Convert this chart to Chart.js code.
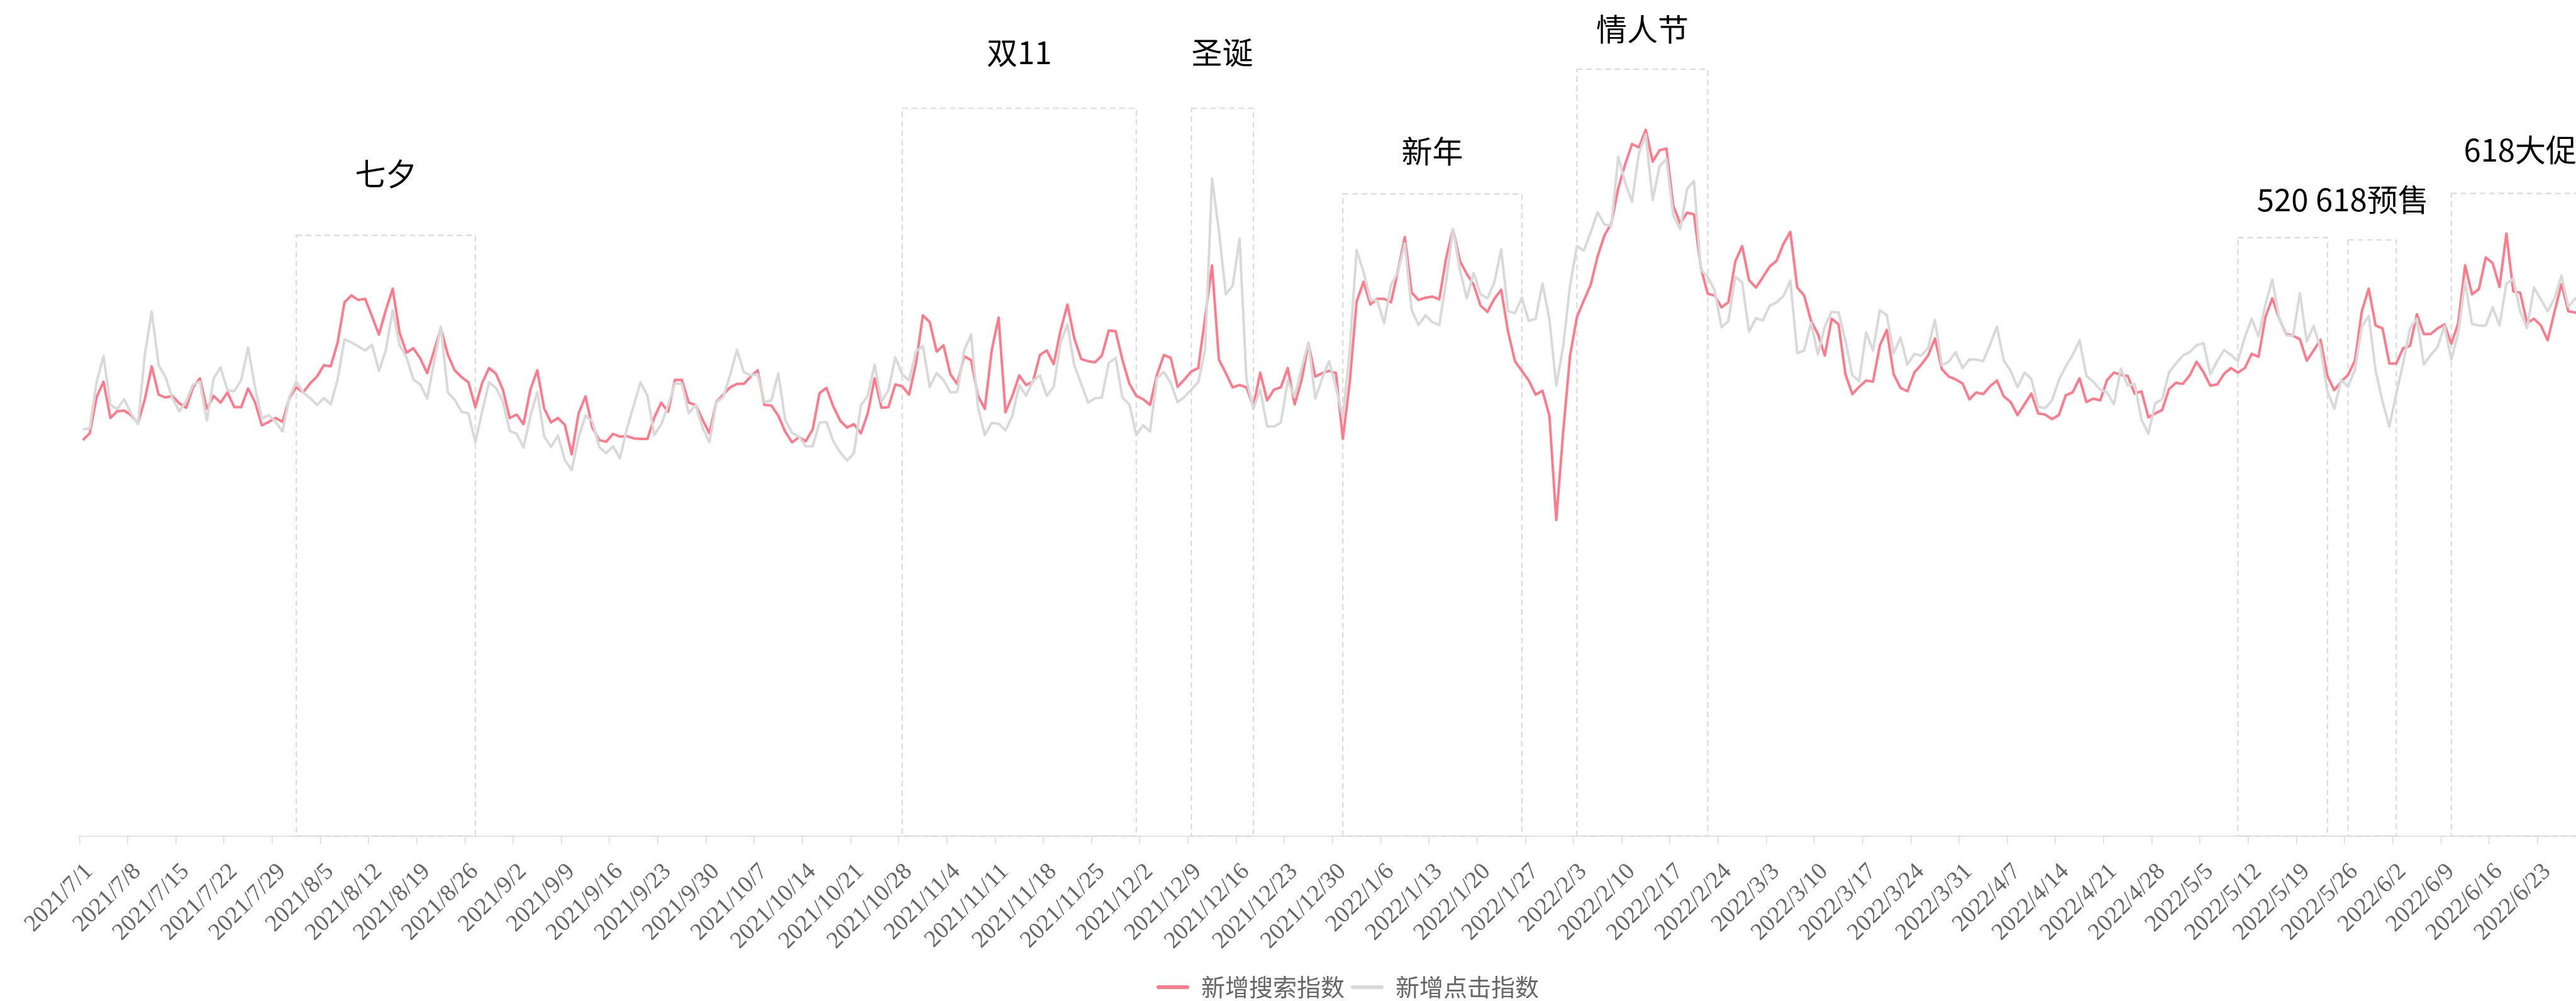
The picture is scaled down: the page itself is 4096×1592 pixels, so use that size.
<!DOCTYPE html>
<html>
<head>
<meta charset="utf-8">
<script src="https://cdn.jsdelivr.net/npm/chart.js@4/dist/chart.umd.min.js"></script>
<style>
  html, body { margin: 0; padding: 0; overflow: hidden; background: #fff; }
  #wrap { width: 4286px; height: 1600px; position: relative; }
</style>
</head>
<body>
<div id="wrap"><canvas id="trend"></canvas></div>
<script>
// 日期分类：2021/7/1 ~ 2022/6/30
const categories = [];
for (let d = new Date(2021, 6, 1); d <= new Date(2022, 5, 30); d.setDate(d.getDate() + 1)) {
    categories.push(d.getFullYear() + '/' + (d.getMonth() + 1) + '/' + d.getDate());
}

const searchIndex = [
    69.8, 71.0, 77.4, 80.1, 73.7, 74.9, 75.0, 74.2, 72.8, 77.0,
    82.8, 77.8, 77.3, 77.6, 76.3, 75.5, 79.1, 80.7, 75.3, 77.6,
    76.4, 78.2, 75.6, 75.6, 78.9, 76.5, 72.4, 73.0, 73.7, 73.0,
    77.2, 79.1, 78.2, 79.8, 81.0, 83.0, 82.8, 87.0, 94.1, 95.3,
    94.5, 94.7, 91.6, 88.4, 92.7, 96.5, 88.7, 85.2, 86.0, 84.2,
    81.6, 85.5, 89.5, 84.9, 82.1, 80.9, 80.0, 75.6, 79.9, 82.5,
    81.5, 78.7, 73.7, 74.3, 72.6, 78.7, 82.1, 75.4, 72.9, 73.7,
    72.5, 67.3, 74.5, 77.5, 72.0, 69.8, 69.5, 70.9, 70.4, 70.5,
    70.1, 70.0, 70.0, 73.8, 76.4, 74.8, 80.4, 80.4, 76.4, 76.0,
    73.4, 71.0, 76.5, 77.8, 79.1, 79.7, 79.7, 81.0, 82.1, 76.0,
    75.9, 74.1, 71.3, 69.4, 70.3, 69.6, 71.7, 78.1, 79.0, 75.7,
    73.2, 72.0, 72.6, 71.0, 74.5, 80.7, 75.5, 75.6, 79.6, 79.3,
    77.8, 83.3, 91.8, 90.6, 85.4, 86.5, 81.4, 79.7, 84.6, 83.9,
    77.6, 75.3, 85.6, 91.4, 74.7, 77.6, 81.2, 79.5, 80.1, 84.8,
    85.6, 83.2, 89.1, 93.7, 87.7, 84.1, 83.7, 83.5, 84.7, 89.1,
    89.0, 83.9, 79.7, 77.6, 77.0, 76.0, 81.3, 84.8, 84.3, 79.2,
    80.5, 81.9, 82.5, 91.4, 100.6, 84.0, 81.6, 79.1, 79.5, 79.1,
    75.7, 81.7, 76.8, 78.7, 79.1, 82.5, 76.1, 80.3, 86.8, 81.0,
    81.6, 82.0, 81.6, 70.0, 80.0, 94.2, 97.7, 93.7, 94.7, 94.7,
    94.1, 99.6, 105.6, 95.8, 94.5, 94.9, 95.1, 94.6, 101.9, 107.0,
    101.4, 99.1, 97.2, 93.5, 92.4, 94.7, 96.3, 88.9, 83.7, 82.0,
    80.3, 77.8, 78.5, 74.1, 55.7, 71.2, 84.7, 91.5, 94.4, 97.2,
    102.2, 105.9, 108.0, 114.2, 118.4, 122.0, 121.4, 124.5, 118.9, 120.9,
    121.2, 111.1, 108.0, 109.9, 109.6, 100.2, 95.6, 95.3, 93.2, 94.1,
    101.3, 104.0, 98.0, 96.7, 98.5, 100.4, 101.4, 104.4, 106.5, 96.7,
    95.3, 90.8, 88.5, 84.7, 91.2, 90.2, 81.4, 77.9, 79.2, 80.3,
    80.1, 86.5, 89.2, 81.4, 79.0, 78.4, 81.7, 83.1, 84.7, 87.7,
    82.3, 81.0, 80.5, 79.8, 77.0, 78.2, 77.9, 79.3, 80.3, 77.5,
    76.5, 74.2, 76.1, 78.0, 74.5, 74.3, 73.5, 74.2, 77.7, 78.2,
    80.7, 76.5, 77.1, 76.8, 80.4, 81.7, 81.3, 81.1, 78.0, 78.4,
    73.8, 74.5, 75.1, 78.8, 79.9, 79.7, 81.2, 83.6, 81.8, 79.4,
    79.6, 81.5, 82.5, 81.7, 82.5, 85.0, 84.5, 91.5, 94.8, 91.2,
    88.5, 88.2, 87.6, 83.8, 85.6, 87.5, 81.1, 78.6, 80.1, 81.3,
    83.8, 92.5, 96.5, 90.0, 89.5, 83.3, 83.3, 86.0, 86.4, 92.0,
    88.5, 88.5, 89.5, 90.2, 86.8, 90.4, 100.6, 95.5, 96.4, 102.0,
    101.0, 96.8, 106.2, 96.0, 95.8, 90.4, 91.2, 90.0, 87.4, 92.5,
    97.3, 92.5, 92.3, 92.0, 92.5
];

const clickIndex = [
    71.7, 71.9, 80.1, 84.6, 76.0, 75.3, 77.0, 74.5, 72.6, 84.9,
    92.5, 83.0, 80.9, 77.2, 74.9, 76.6, 79.6, 80.1, 73.2, 80.7,
    82.6, 78.6, 78.4, 80.4, 86.1, 79.1, 73.6, 74.2, 73.0, 71.3,
    77.4, 80.1, 78.2, 77.2, 76.0, 77.2, 76.1, 80.5, 87.6, 87.0,
    86.3, 85.6, 86.6, 82.0, 85.6, 92.7, 86.5, 84.4, 80.5, 79.6,
    77.1, 83.5, 89.8, 78.2, 76.9, 74.8, 74.5, 69.4, 74.9, 80.0,
    79.0, 76.6, 71.4, 70.9, 68.5, 74.0, 78.3, 70.4, 68.6, 70.6,
    66.3, 64.5, 70.3, 74.1, 73.1, 68.6, 67.5, 68.7, 66.6, 71.7,
    75.9, 80.0, 77.6, 70.7, 72.6, 75.9, 79.8, 79.7, 74.5, 76.0,
    72.0, 69.4, 76.4, 77.4, 81.2, 85.7, 81.8, 81.2, 81.4, 76.5,
    76.8, 81.6, 73.4, 71.1, 70.4, 68.7, 68.7, 72.9, 73.0, 69.6,
    67.6, 66.2, 67.5, 75.9, 77.6, 83.1, 76.6, 78.6, 84.4, 81.4,
    80.3, 85.4, 86.4, 79.2, 81.6, 80.4, 78.2, 78.3, 85.6, 88.4,
    75.7, 70.7, 72.8, 72.7, 71.5, 74.1, 79.5, 77.6, 80.3, 81.2,
    77.6, 79.2, 87.0, 90.2, 83.0, 79.7, 76.4, 77.2, 77.3, 83.4,
    84.3, 77.3, 76.1, 70.7, 72.4, 71.3, 80.7, 81.8, 79.9, 76.5,
    77.4, 78.7, 80.0, 85.8, 115.9, 106.7, 95.5, 97.0, 105.3, 80.5,
    75.3, 78.7, 72.2, 72.2, 72.9, 80.3, 77.4, 82.4, 87.0, 77.1,
    80.7, 83.7, 79.1, 73.8, 85.6, 103.3, 99.5, 94.6, 94.4, 90.4,
    97.2, 99.3, 104.5, 92.7, 90.1, 91.8, 90.6, 90.1, 97.7, 107.0,
    99.8, 94.8, 99.3, 95.5, 94.8, 97.6, 103.4, 92.5, 92.2, 94.9,
    90.8, 91.2, 97.4, 91.1, 79.4, 86.3, 97.0, 104.0, 103.2, 106.4,
    110.0, 107.8, 107.6, 119.8, 115.2, 111.8, 120.4, 123.7, 112.1, 118.1,
    119.4, 109.4, 107.0, 114.1, 115.5, 99.8, 98.6, 96.2, 89.7, 90.8,
    98.6, 97.6, 88.9, 91.3, 90.9, 93.5, 94.1, 95.2, 97.9, 85.1,
    85.6, 90.5, 84.9, 89.8, 92.4, 92.3, 87.4, 81.2, 80.2, 88.8,
    85.6, 92.7, 91.8, 85.1, 87.9, 83.1, 85.0, 84.7, 86.0, 91.0,
    83.0, 83.6, 85.3, 82.5, 84.0, 84.0, 83.7, 86.6, 89.8, 83.8,
    82.0, 79.1, 81.7, 80.6, 75.7, 75.4, 76.8, 80.4, 82.8, 84.8,
    87.4, 81.1, 80.1, 78.7, 78.2, 76.1, 82.4, 79.4, 79.7, 73.4,
    70.9, 76.3, 77.0, 81.7, 83.3, 84.7, 85.3, 86.5, 86.9, 81.4,
    83.7, 85.7, 84.8, 83.7, 87.9, 91.2, 88.1, 93.7, 98.1, 91.2,
    88.3, 88.1, 95.7, 87.2, 89.9, 86.0, 78.4, 75.3, 80.4, 79.2,
    82.2, 89.8, 91.7, 82.1, 76.6, 72.2, 78.0, 83.3, 89.5, 91.2,
    83.1, 84.8, 86.2, 89.9, 84.0, 88.7, 97.7, 90.3, 90.0, 90.0,
    93.2, 90.0, 97.4, 98.2, 92.5, 89.5, 96.7, 94.6, 92.5, 94.8,
    98.8, 93.3, 94.8, 94.5, 93.0
];

// 节日区间
const markNames = ['七夕', '双11', '圣诞', '新年', '情人节', '520', '618预售', '618大促'];
const markFrom = ['2021/8/1', '2021/10/28', '2021/12/9', '2021/12/31', '2022/2/3', '2022/5/10', '2022/5/26', '2022/6/10'];
const markTo = ['2021/8/27', '2021/12/1', '2021/12/18', '2022/1/26', '2022/2/22', '2022/5/23', '2022/6/2', '2022/6/30'];
const markTop = [105.9, 128.3, 128.3, 113.2, 135.2, 105.5, 105.1, 113.3];
const markLabelAt = [116.8, 138.1, 138.1, 120.8, 142.2, 112.2, 112.2, 121.0];

const markArea = {
    id: 'markArea',
    beforeDatasetsDraw(chart) {
        const {ctx, scales: {x, y}} = chart;
        ctx.save();
        ctx.strokeStyle = '#dadada';
        ctx.lineWidth = 2.2;
        ctx.setLineDash([9, 6]);
        for (let i = 0; i < markNames.length; i++) {
            const x0 = x.getPixelForValue(categories.indexOf(markFrom[i]));
            const x1 = x.getPixelForValue(categories.indexOf(markTo[i]));
            const y0 = y.getPixelForValue(markTop[i]);
            const y1 = y.getPixelForValue(0);
            ctx.strokeRect(x0, y0, x1 - x0, y1 - y0);
        }
        ctx.restore();
    },
    afterDraw(chart) {
        const {ctx, scales: {x, y}} = chart;
        ctx.save();
        ctx.fillStyle = '#000';
        ctx.font = '49px "Noto Sans CJK SC"';
        ctx.textAlign = 'center';
        ctx.textBaseline = 'middle';
        for (let i = 0; i < markNames.length; i++) {
            const x0 = x.getPixelForValue(categories.indexOf(markFrom[i]));
            const x1 = x.getPixelForValue(categories.indexOf(markTo[i]));
            ctx.fillText(markNames[i], (x0 + x1) / 2, y.getPixelForValue(markLabelAt[i]));
        }
        ctx.restore();
    }
};

new Chart(document.getElementById('trend'), {
    type: 'line',
    data: {
        labels: categories,
        datasets: [{
            label: '新增搜索指数',
            data: searchIndex,
            borderColor: '#ff7b8b',
            backgroundColor: '#ff7b8b',
            borderWidth: 4,
            pointRadius: 0,
            borderJoinStyle: 'round',
            order: 1
        }, {
            label: '新增点击指数',
            data: clickIndex,
            borderColor: '#d9d9d9',
            backgroundColor: '#d9d9d9',
            borderWidth: 4,
            pointRadius: 0,
            borderJoinStyle: 'round',
            order: 0
        }]
    },
    options: {
        responsive: true,
        maintainAspectRatio: false,
        devicePixelRatio: 1,
        animation: false,
        events: [],
        layout: {
            padding: {top: 66.7, left: 0, right: 0, bottom: 1}
        },
        scales: {
            x: {
                type: 'category',
                offset: true,
                grid: {
                    offset: true,
                    drawOnChartArea: false,
                    drawTicks: true,
                    tickLength: 13,
                    lineWidth: 1.6,
                    color: ctx => (ctx.index % 7 === 0 ? '#dcdcdc' : 'rgba(0,0,0,0)')
                },
                border: {display: true, color: '#dcdcdc', width: 1.8},
                ticks: {
                    autoSkip: false,
                    maxRotation: 45,
                    minRotation: 45,
                    padding: 22,
                    labelOffset: 10,
                    color: '#666',
                    font: {family: '"Liberation Serif"', size: 38},
                    callback: function(v, i) {
                        // 每周一个标签，最后一天不显示
                        return (i % 7 === 0 && i < categories.length - 1) ? this.getLabelForValue(v) : '';
                    }
                },
                afterFit: s => {
                    s.height = 211.5;
                    s.paddingLeft = 0;
                    s.paddingRight = 0;
                }
            },
            y: {
                min: 0,
                max: 140,
                ticks: {display: false},
                grid: {display: false},
                border: {display: false},
                afterFit: s => { s.width = 126.3; }
            },
            y2: {
                position: 'right',
                ticks: {display: false},
                grid: {display: false},
                border: {display: false},
                afterFit: s => { s.width = 163.8; }
            }
        },
        plugins: {
            tooltip: {enabled: false},
            legend: {
                position: 'bottom',
                labels: {
                    boxWidth: 52,
                    boxHeight: 6,
                    useBorderRadius: true,
                    borderRadius: 3,
                    padding: 10,
                    color: '#666',
                    font: {family: '"Noto Sans CJK SC"', size: 38},
                    sort: (a, b) => a.datasetIndex - b.datasetIndex,
                    generateLabels(chart) {
                        const items = Chart.defaults.plugins.legend.labels.generateLabels(chart);
                        items.forEach(it => {
                            it.lineWidth = 0;
                            it.fillStyle = chart.data.datasets[it.datasetIndex].borderColor;
                        });
                        return items;
                    }
                }
            }
        }
    },
    plugins: [markArea]
});
</script>
</body>
</html>
